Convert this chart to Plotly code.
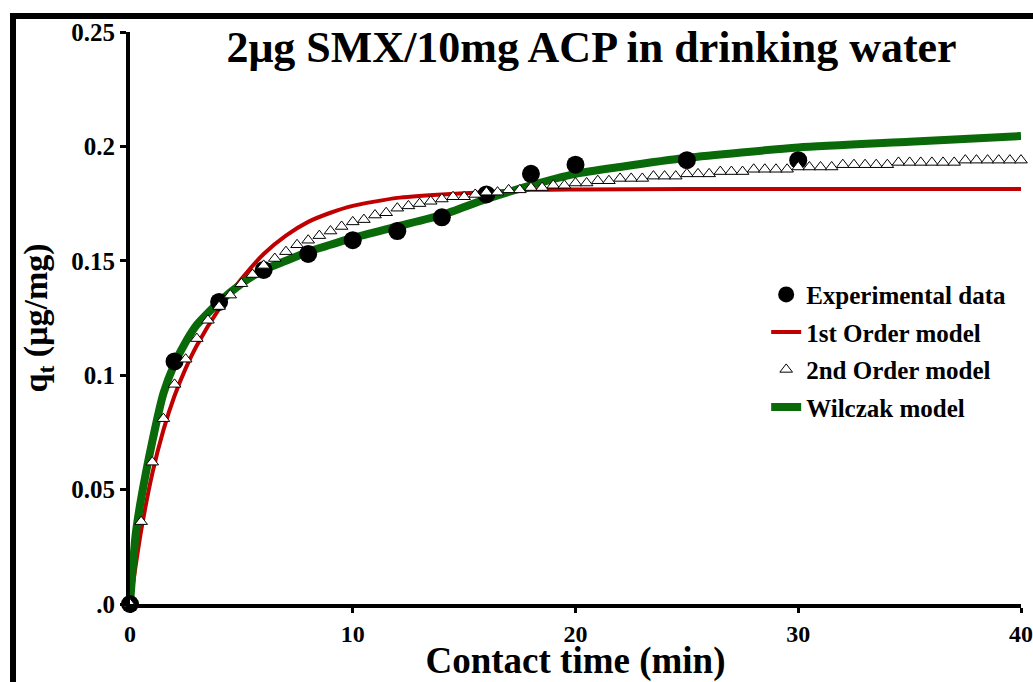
import plotly.graph_objects as go

# ---------------- data ----------------
exp_time = [0, 2, 4, 6, 8, 10, 12, 14, 16, 18, 20, 25, 30]
exp_q = [0.0, 0.106, 0.132, 0.146, 0.153, 0.159, 0.163, 0.169, 0.179, 0.188, 0.192, 0.194, 0.194]

first_time = [0, 0.5, 1, 1.5, 2, 2.5, 3, 4, 5, 6, 7, 8, 9, 10, 12, 14, 16, 18, 20, 25, 30, 35, 40]
first_q = [0.0, 0.032, 0.057, 0.076, 0.091, 0.103, 0.113, 0.129, 0.142, 0.153, 0.161, 0.167,
           0.171, 0.174, 0.1775, 0.179, 0.180, 0.181, 0.1812, 0.1814, 0.1814, 0.1814, 0.1814]

second_time = [0, 0.5, 1, 1.5, 2, 2.5, 3, 3.5, 4, 4.5, 5, 5.5, 6, 6.5, 7, 7.5, 8, 8.5, 9, 9.5,
               10, 10.5, 11, 11.5, 12, 12.5, 13, 13.5, 14, 14.5, 15, 15.5, 16, 16.5, 17, 17.5,
               18, 18.5, 19, 19.5, 20, 20.5, 21, 21.5, 22, 22.5, 23, 23.5, 24, 24.5, 25, 25.5,
               26, 26.5, 27, 27.5, 28, 28.5, 29, 29.5, 30, 30.5, 31, 31.5, 32, 32.5, 33, 33.5,
               34, 34.5, 35, 35.5, 36, 36.5, 37, 37.5, 38, 38.5, 39, 39.5, 40]
second_q = [0.0, 0.036, 0.062, 0.081, 0.096, 0.107, 0.116, 0.124, 0.130, 0.135, 0.140, 0.144,
            0.148, 0.151, 0.154, 0.157, 0.159, 0.161, 0.163, 0.165, 0.167, 0.168, 0.170, 0.171,
            0.173, 0.174, 0.175, 0.176, 0.177, 0.178, 0.178, 0.179, 0.180, 0.180, 0.181, 0.181,
            0.182, 0.182, 0.183, 0.183, 0.184, 0.184, 0.185, 0.185, 0.186, 0.186, 0.186, 0.187,
            0.187, 0.187, 0.188, 0.188, 0.188, 0.189, 0.189, 0.189, 0.190, 0.190, 0.190, 0.190,
            0.191, 0.191, 0.191, 0.191, 0.192, 0.192, 0.192, 0.192, 0.192, 0.193, 0.193, 0.193,
            0.193, 0.193, 0.193, 0.194, 0.194, 0.194, 0.194, 0.194, 0.194]

wil_time = [0, 0.25, 0.5, 1, 1.5, 2, 2.5, 3, 4, 5, 6, 7, 8, 9, 10, 12, 14, 16, 18, 20, 22, 25, 30, 35, 40]
wil_q = [0.0, 0.030, 0.046, 0.071, 0.092, 0.105, 0.1145, 0.122, 0.132, 0.140, 0.146, 0.150,
         0.154, 0.157, 0.160, 0.165, 0.170, 0.177, 0.183, 0.188, 0.191, 0.195, 0.1995, 0.202, 0.2045]

x_ticks = [0, 10, 20, 30, 40]
y_ticks = [0, 0.05, 0.1, 0.15, 0.2, 0.25]
y_tick_text = [".0", "0.05", "0.1", "0.15", "0.2", "0.25"]

# ---------------- style ----------------
SERIF = "Liberation Serif, Times New Roman, serif"
RED = "#c00000"
GREEN = "#0a6a0a"

fig = go.Figure()

fig.add_trace(go.Scatter(
    x=first_time, y=first_q, mode="lines", name="1st Order model",
    line=dict(color=RED, width=4, shape="spline", smoothing=0.6),
    cliponaxis=False, legendgroup="b", legendrank=2))

fig.add_trace(go.Scatter(
    x=wil_time, y=wil_q, mode="lines", name="Wilczak model",
    line=dict(color=GREEN, width=8, shape="spline", smoothing=0.6),
    cliponaxis=False, legendgroup="d", legendrank=4))

fig.add_trace(go.Scatter(
    x=exp_time, y=exp_q, mode="markers", name="Experimental data",
    marker=dict(symbol="circle", size=18, color="black", line=dict(width=0)),
    cliponaxis=False, legendgroup="a", legendrank=1))

fig.add_trace(go.Scatter(
    x=second_time, y=second_q, mode="markers", name="2nd Order model",
    marker=dict(symbol="triangle-up", size=11, color="white",
                line=dict(color="black", width=1)),
    cliponaxis=False, legendgroup="c", legendrank=3))

x_font = dict(family=SERIF, size=24, color="black", weight="bold")
y_font = dict(family=SERIF, size=25, color="black", weight="bold")

fig.update_layout(
    width=1033, height=682, autosize=False,
    margin=dict(l=130, r=12, t=32, b=78, pad=0, autoexpand=False),
    paper_bgcolor="white", plot_bgcolor="white",
    title=dict(text="2μg SMX/10mg ACP in drinking water",
               font=dict(family=SERIF, size=44, color="black", weight="bold"),
               xref="paper", x=0.518, xanchor="center",
               yref="container", y=0.931, yanchor="middle"),
    xaxis=dict(range=[0, 40], tickvals=x_ticks, ticktext=[str(v) for v in x_ticks],
               showline=True, linecolor="black", linewidth=4,
               ticks="outside", ticklen=5, tickwidth=3, tickcolor="black",
               showgrid=False, zeroline=False, tickfont=x_font,
               ticklabeloverflow="allow", automargin=False,
               title=dict(text="Contact time (min)", standoff=7,
                          font=dict(family=SERIF, size=37, color="black", weight="bold"))),
    yaxis=dict(range=[0, 0.25], tickvals=y_ticks, ticktext=y_tick_text,
               showline=True, linecolor="black", linewidth=4,
               ticks="outside", ticklen=6, tickwidth=3, tickcolor="black",
               showgrid=False, zeroline=False, tickfont=y_font,
               ticklabeloverflow="allow", automargin=False,
               title=dict(text="q<sub>t</sub> (μg/mg)", standoff=14,
                          font=dict(family=SERIF, size=34, color="black", weight="bold"))),
    legend=dict(x=0.714, y=0.581, xanchor="left", yanchor="top",
                bgcolor="rgba(0,0,0,0)", borderwidth=0, tracegroupgap=2,
                font=dict(family=SERIF, size=25, color="black", weight="bold")),
    shapes=[dict(type="rect", xref="paper", yref="paper",
                 x0=-0.1313, x1=1.3, y0=-0.4, y1=1.028,
                 line=dict(color="black", width=6), fillcolor="rgba(0,0,0,0)",
                 layer="above")],
)

fig.write_html("out.html", config={"displayModeBar": False},
               post_script="document.body.style.margin='0';document.body.style.overflow='hidden';")
